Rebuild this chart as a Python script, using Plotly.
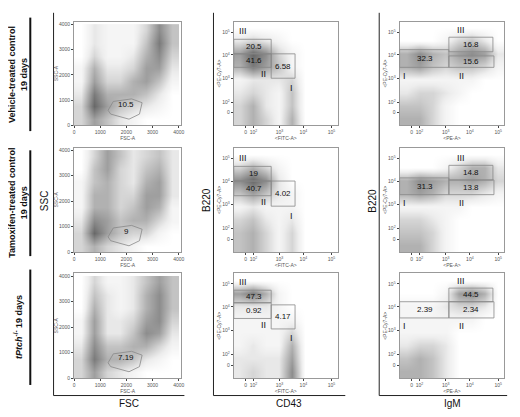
import plotly.graph_objects as go

# density grids (rows bottom -> top), 8x8 cells
fsc_centers = [250, 750, 1250, 1750, 2250, 2750, 3250, 3750]
log_centers = [0.625, 1.875, 3.125, 4.375, 5.625, 6.875, 8.125, 9.375]

fsc_vehicle = [[3, 6, 4, 2, 1, 0, 0, 0],
               [3, 9, 6, 4, 3, 2, 1, 0],
               [2, 8, 5, 5, 5, 4, 2, 0],
               [1, 6, 3, 3, 5, 6, 4, 1],
               [1, 5, 2, 2, 3, 6, 6, 2],
               [0, 3, 1, 1, 2, 5, 7, 3],
               [0, 2, 1, 1, 1, 4, 8, 4],
               [0, 2, 1, 1, 1, 3, 7, 4]]
fsc_tamox = [[3, 5, 3, 2, 1, 0, 0, 0],
             [3, 9, 6, 4, 3, 3, 1, 0],
             [2, 7, 6, 4, 5, 5, 3, 1],
             [1, 5, 5, 3, 4, 6, 5, 1],
             [1, 5, 5, 3, 3, 6, 6, 2],
             [1, 4, 5, 3, 2, 5, 6, 2],
             [0, 4, 6, 3, 2, 4, 5, 2],
             [0, 3, 6, 4, 2, 3, 4, 2]]
fsc_ptch = [[3, 6, 3, 2, 1, 0, 0, 0],
            [3, 8, 5, 5, 4, 2, 1, 0],
            [2, 7, 4, 4, 5, 5, 3, 1],
            [1, 6, 2, 2, 4, 7, 6, 2],
            [1, 6, 2, 2, 3, 6, 7, 3],
            [0, 5, 2, 1, 2, 5, 7, 4],
            [0, 4, 2, 1, 2, 5, 7, 4],
            [0, 3, 1, 1, 2, 4, 6, 4]]

cd43_vehicle = [[3, 5, 3, 1, 5, 0, 0, 0],
                [3, 5, 2, 1, 4, 0, 0, 0],
                [2, 3, 2, 1, 4, 0, 0, 0],
                [1, 2, 2, 2, 3, 0, 0, 0],
                [5, 8, 6, 4, 1, 0, 0, 0],
                [6, 9, 7, 3, 1, 0, 0, 0],
                [2, 3, 2, 1, 0, 0, 0, 0],
                [0, 0, 0, 0, 0, 0, 0, 0]]
cd43_tamox = [[4, 5, 3, 1, 3, 0, 0, 0],
              [4, 5, 3, 1, 3, 0, 0, 0],
              [3, 4, 2, 1, 2, 0, 0, 0],
              [1, 2, 1, 1, 1, 0, 0, 0],
              [4, 6, 4, 2, 1, 0, 0, 0],
              [7, 9, 7, 2, 0, 0, 0, 0],
              [3, 5, 3, 1, 0, 0, 0, 0],
              [0, 0, 0, 0, 0, 0, 0, 0]]
cd43_ptch = [[2, 3, 2, 2, 7, 0, 0, 0],
             [2, 2, 2, 2, 6, 0, 0, 0],
             [1, 2, 1, 1, 5, 0, 0, 0],
             [1, 1, 1, 1, 3, 0, 0, 0],
             [1, 1, 1, 1, 1, 0, 0, 0],
             [2, 2, 2, 1, 0, 0, 0, 0],
             [6, 8, 5, 1, 0, 0, 0, 0],
             [0, 0, 0, 0, 0, 0, 0, 0]]

igm_vehicle = [[5, 5, 3, 1, 0, 0, 0, 0],
               [4, 4, 3, 1, 0, 0, 0, 0],
               [2, 3, 3, 2, 1, 0, 0, 0],
               [1, 1, 1, 1, 1, 1, 0, 0],
               [5, 6, 4, 3, 4, 4, 3, 1],
               [5, 7, 5, 4, 6, 7, 6, 2],
               [0, 0, 0, 1, 3, 4, 2, 0],
               [0, 0, 0, 0, 0, 0, 0, 0]]
igm_tamox = [[5, 5, 3, 1, 0, 0, 0, 0],
             [4, 4, 3, 1, 0, 0, 0, 0],
             [3, 3, 2, 1, 0, 0, 0, 0],
             [1, 1, 1, 1, 1, 0, 0, 0],
             [5, 6, 5, 3, 3, 3, 2, 1],
             [5, 7, 6, 5, 5, 6, 5, 3],
             [0, 0, 0, 1, 3, 5, 5, 2],
             [0, 0, 0, 0, 0, 0, 0, 0]]
igm_ptch = [[5, 5, 4, 2, 0, 0, 0, 0],
            [4, 5, 4, 2, 0, 0, 0, 0],
            [2, 3, 3, 2, 0, 0, 0, 0],
            [1, 1, 1, 1, 0, 0, 0, 0],
            [1, 1, 1, 1, 1, 1, 0, 0],
            [1, 1, 1, 2, 3, 3, 2, 0],
            [0, 0, 0, 1, 6, 7, 5, 0],
            [0, 0, 0, 0, 0, 0, 0, 0]]

row_labels = ["Vehicle-treated control<br>19 days",
              "Tamoxifen-treated control<br>19 days",
              "<i>tPtch</i><sup>-/-</sup> 19 days"]
fsc_pct = ["10.5", "9", "7.19"]
cd43_pct = [("20.5", "41.6", "6.58"), ("19", "40.7", "4.02"), ("47.3", "0.92", "4.17")]
igm_pct = [("32.3", "16.8", "15.6"), ("31.3", "14.8", "13.8"), ("2.39", "44.5", "2.34")]

lin_ticks = [0, 1000, 2000, 3000, 4000]
log_x_ticks = [1.15, 1.9, 4.4, 6.7, 9.4]
log_y_ticks = [1.24, 2.26, 4.55, 6.8, 9.0]
log_text = ["0", "10<sup>2</sup>", "10<sup>3</sup>", "10<sup>4</sup>", "10<sup>5</sup>"]

xdom = [(0.131, 0.344), (0.448, 0.654), (0.777, 0.985)]
ydom = [(0.707, 0.966), (0.391, 0.652), (0.077, 0.338)]

grids = [[fsc_vehicle, cd43_vehicle, igm_vehicle],
         [fsc_tamox, cd43_tamox, igm_tamox],
         [fsc_ptch, cd43_ptch, igm_ptch]]

fig = go.Figure()
lay = {}
shapes = []
annots = []
tf = dict(size=5, color="#555", family="Arial")
gate = dict(color="#888", width=0.8)

for r in range(3):
    for c in range(3):
        n = r * 3 + c + 1
        xr = "x" if n == 1 else "x%d" % n
        yr = "y" if n == 1 else "y%d" % n
        cx = fsc_centers if c == 0 else log_centers
        fig.add_trace(go.Heatmap(z=grids[r][c], x=cx, y=cx, xaxis=xr, yaxis=yr,
                                 zsmooth="best", showscale=False, zmin=0, zmax=11,
                                 colorscale=[[0, "white"], [0.15, "#eeeeee"], [1, "#444444"]],
                                 hoverinfo="skip"))
        if c == 0:
            ax = dict(range=[0, 4100], tickvals=lin_ticks)
            ay = dict(range=[0, 4100], tickvals=lin_ticks)
            xt, yt = "FSC-A", "SSC-A"
        else:
            ax = dict(range=[0, 10], tickvals=log_x_ticks, ticktext=log_text)
            ay = dict(range=[0, 10], tickvals=log_y_ticks, ticktext=log_text)
            xt, yt = ("<FITC-A>" if c == 1 else "<PE-A>"), "<PE-Cy7-A>"
        common = dict(showline=True, linecolor="#999", mirror=True, ticks="outside",
                      ticklen=2, tickfont=tf, showgrid=False, zeroline=False,
                      automargin=False)
        lay["xaxis" if n == 1 else "xaxis%d" % n] = dict(domain=xdom[c], anchor=yr,
            title=dict(text=xt, font=tf, standoff=0), **ax, **common)
        lay["yaxis" if n == 1 else "yaxis%d" % n] = dict(domain=ydom[r], anchor=xr,
            title=dict(text=yt, font=tf, standoff=0), **ay, **common)

        def rect(x0, x1, y0, y1):
            shapes.append(dict(type="rect", xref=xr, yref=yr, x0=x0, x1=x1, y0=y0, y1=y1, line=gate))

        def txt(x, y, s, size=8):
            annots.append(dict(xref=xr, yref=yr, x=x, y=y, text=s, showarrow=False,
                               font=dict(size=size, color="#111", family="Arial")))
        if c == 0:
            px = [1300, 1500, 2200, 2600, 2500, 2100, 1400, 1300]
            py = [600, 950, 1050, 900, 450, 250, 450, 600]
            path = "M " + " L ".join("%d %d" % p for p in zip(px, py)) + " Z"
            shapes.append(dict(type="path", xref=xr, yref=yr, path=path, line=gate))
            txt(2000, 820, fsc_pct[r])
        elif c == 1:
            b = [(8.3, 6.9, 5.6, 6.9, 4.55), (8.2, 6.8, 5.4, 6.8, 4.4), (8.4, 7.2, 5.7, 7.0, 4.7)][r]
            rect(0, 3.6, b[1], b[0]); rect(0, 3.6, b[2], b[1]); rect(3.6, 5.9, b[4], b[3])
            p = cd43_pct[r]
            txt(1.9, (b[0] + b[1]) / 2, p[0]); txt(1.9, (b[1] + b[2]) / 2, p[1])
            txt(4.75, (b[3] + b[4]) / 2, p[2])
            txt(0.9, b[0] + 0.8, "III", 9); txt(2.9, b[2] - 0.6, "II", 9); txt(5.6, b[4] - 0.9, "I", 9)
        else:
            b = [(7.3, 5.6, 8.5, 6.7, 7.1), (7.1, 5.5, 8.3, 6.9, 6.9), (7.3, 5.75, 8.6, 7.3, 7.3)][r]
            rect(0, 4.7, b[1], b[0]); rect(4.7, 8.9, b[4], b[2]); rect(4.7, 9.0, b[1], b[3])
            p = igm_pct[r]
            txt(2.4, (b[0] + b[1]) / 2, p[0]); txt(6.8, (b[2] + b[4]) / 2, p[1])
            txt(6.8, (b[1] + b[3]) / 2, p[2])
            txt(0.5, b[1] - 0.8, "I", 9); txt(5.9, b[2] + 0.7, "III", 9); txt(5.9, b[1] - 0.8, "II", 9)

big = dict(size=10, color="#111", family="Arial")
# outer axis arrows and column titles
for x0, x1, t in [(47, 182, "FSC"), (212, 348, "CD43"), (383, 515, "IgM")]:
    shapes.append(dict(type="line", xref="paper", yref="paper", x0=x0 / 520, x1=x0 / 520,
                       y0=1 - 403 / 417, y1=1 - 5 / 417, line=dict(color="#222", width=1)))
    shapes.append(dict(type="line", xref="paper", yref="paper", x0=x0 / 520, x1=x1 / 520,
                       y0=1 - 403 / 417, y1=1 - 403 / 417, line=dict(color="#222", width=1)))
    annots.append(dict(xref="paper", yref="paper", x=(x0 + x1 + 20) / 2 / 520, y=1 - 411 / 417,
                       xanchor="center", yanchor="middle", text=t, showarrow=False, font=big))
for x, t in [(37, "SSC"), (205, "B220"), (376, "B220")]:
    annots.append(dict(xref="paper", yref="paper", x=x / 520, y=1 - 200 / 417, text=t,
                       xanchor="center", yanchor="middle",
                       textangle=-90, showarrow=False, font=big))
for r, (y0, y1) in enumerate([(10, 128), (148, 258), (272, 392)]):
    shapes.append(dict(type="line", xref="paper", yref="paper", x0=23 / 520, x1=23 / 520,
                       y0=1 - y0 / 417, y1=1 - y1 / 417, line=dict(color="#111", width=2)))
    annots.append(dict(xref="paper", yref="paper", x=11 / 520, y=1 - (y0 + y1) / 2 / 417,
                       xanchor="center", yanchor="middle",
                       text="<b>" + row_labels[r] + "</b>", textangle=-90, showarrow=False,
                       font=dict(size=9, color="#111", family="Arial")))

fig.update_layout(autosize=True, margin=dict(l=0, r=0, t=0, b=0),
                  plot_bgcolor="white", paper_bgcolor="white", showlegend=False,
                  shapes=shapes, annotations=annots, **lay)
fig.write_html("out.html", config={"responsive": True})
